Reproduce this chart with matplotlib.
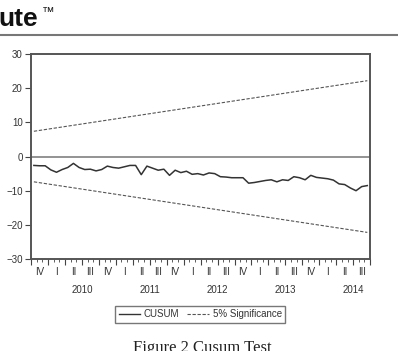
import numpy as np
import matplotlib
matplotlib.use('Agg')
import matplotlib.pyplot as plt
from matplotlib.lines import Line2D

plt.rcParams['font.family'] = ['Liberation Sans', 'DejaVu Sans']

# monthly CUSUM values, Oct 2009 .. Sep 2014
cusum = [-2.6, -2.7, -2.7, -3.9, -4.6, -3.8, -3.2, -2.0, -3.2, -3.8,
         -3.7, -4.2, -3.8, -2.8, -3.2, -3.4, -3.0, -2.6, -2.6, -5.3,
         -2.8, -3.4, -4.0, -3.7, -5.5, -4.0, -4.7, -4.3, -5.2, -5.0,
         -5.4, -4.8, -5.0, -5.9, -6.0, -6.2, -6.2, -6.2, -7.8, -7.6,
         -7.3, -7.0, -6.8, -7.4, -6.8, -7.0, -5.9, -6.2, -6.8, -5.5,
         -6.1, -6.3, -6.5, -6.9, -8.0, -8.2, -9.2, -10.0, -8.8, -8.5]
upper_ends = [7.4, 22.2]
lower_ends = [-7.4, -22.2]
quarter_labels = ['IV', 'I', 'II', 'III', 'IV', 'I', 'II', 'III', 'IV', 'I',
                  'II', 'III', 'IV', 'I', 'II', 'III', 'IV', 'I', 'II', 'III']
years = ['2010', '2011', '2012', '2013', '2014']

n = len(cusum)
x = np.arange(n)

fig = plt.figure(figsize=(3.98, 3.51), dpi=100)
ax = fig.add_axes([0.078, 0.262, 0.852, 0.584])

ax.axhline(0, color='#8a8a8a', lw=1.3, zorder=1)
ax.plot(x, cusum, color='#333333', lw=1.1, zorder=3)
ax.plot([0, n - 1], upper_ends, color='#555555', lw=0.8, ls=(0, (3, 1.5)))
ax.plot([0, n - 1], lower_ends, color='#555555', lw=0.8, ls=(0, (3, 1.5)))

ax.set_xlim(-0.5, n - 0.5)
ax.set_ylim(-30, 30)
ax.set_yticks([-30, -20, -10, 0, 10, 20, 30])
ax.tick_params(axis='y', direction='out', length=4, width=0.8,
               color='#444444', labelsize=7, labelcolor='#333333', pad=2)

# monthly ticks, longer at quarter starts
ax.set_xticks(np.arange(0, n + 1) - 0.5, minor=True)
ax.set_xticks(np.arange(0, n + 1, 3) - 0.5)
ax.set_xticklabels([])
ax.tick_params(axis='x', which='major', direction='out', length=4,
               width=0.8, color='#444444')
ax.tick_params(axis='x', which='minor', direction='out', length=2.5,
               width=0.6, color='#444444')

tr = ax.get_xaxis_transform()
for i, lab in enumerate(quarter_labels):
    ax.text(i * 3 + 1, -0.04, lab, transform=tr, ha='center', va='top',
            fontsize=7, color='#333333')
for j, yr in enumerate(years):
    ax.text(3 + j * 12 + 5.5, -0.125, yr, transform=tr, ha='center',
            va='top', fontsize=7, color='#333333')

for s in ax.spines.values():
    s.set_color('#555555')
    s.set_linewidth(1.4)

handles = [Line2D([], [], color='#333333', lw=1.0),
           Line2D([], [], color='#555555', lw=0.8, ls=(0, (3, 1.5)))]
fig.legend(handles, ['CUSUM', '5% Significance'], loc='center',
           bbox_to_anchor=(0.503, 0.105), ncol=2, fontsize=7,
           frameon=True, fancybox=False, edgecolor='#555555',
           handlelength=2.2, handletextpad=0.4, columnspacing=0.8,
           borderpad=0.35, labelcolor='#333333')

# page context around the chart
fig.text(-0.005, 0.925, 'ute', fontsize=19, fontweight='bold',
         color='#111111', ha='left', va='baseline')
fig.text(0.105, 0.955, '\u2122', fontsize=9, color='#111111',
         ha='left', va='baseline')
fig.add_artist(Line2D([0, 1], [0.9, 0.9], transform=fig.transFigure,
                      color='#777777', lw=1.5))
fig.text(0.335, -0.004, 'Figure 2 Cusum Test', fontsize=12,
         family=['Liberation Serif', 'DejaVu Serif'], color='#222222',
         ha='left', va='baseline')

fig.savefig('out.png', dpi=100)
